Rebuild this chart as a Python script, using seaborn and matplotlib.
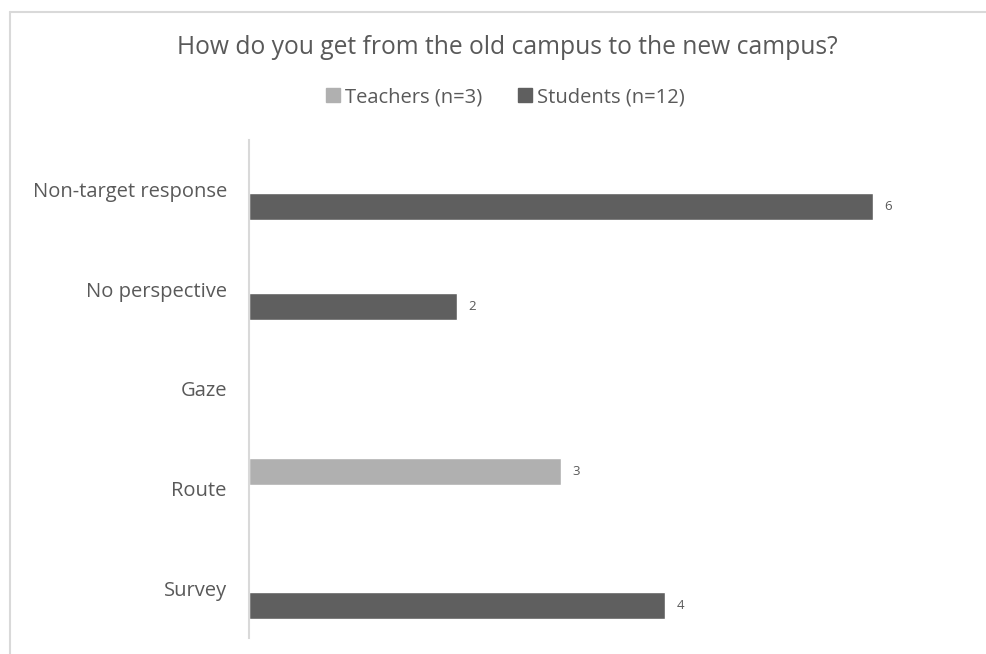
import numpy as np
import pandas as pd
import matplotlib
matplotlib.use("Agg")
import matplotlib.pyplot as plt
import seaborn as sns
from matplotlib.lines import Line2D

categories = ["Non-target response", "No perspective", "Gaze", "Route", "Survey"]
teachers = [0, 0, 0, 3, 0]
students = [6, 2, 0, 0, 4]
groups = ["Teachers (n=3)", "Students (n=12)"]
colors = ["#b0b0b0", "#5f5f5f"]

df = pd.DataFrame({
    "Category": categories * 2,
    "Count": teachers + students,
    "Group": [groups[0]] * len(categories) + [groups[1]] * len(categories),
})

sns.set_style("white")
plt.rcParams["font.family"] = ["Open Sans", "DejaVu Sans"]
text_col = "#595959"

fig = plt.figure(figsize=(9.87, 6.54), dpi=100)
ax = fig.add_axes([249 / 987, 16 / 654, (873 - 249) / 987, (638 - 140) / 654])

sns.barplot(data=df, y="Category", x="Count", hue="Group", order=categories,
            hue_order=groups, palette=colors, orient="h", width=0.68, gap=0.2,
            ax=ax, legend=False, saturation=1)

# value labels, skip empty bars
for cont in ax.containers:
    for bar in cont:
        w = bar.get_width()
        if w > 0:
            ax.text(w + 0.11, bar.get_y() + bar.get_height() / 2, f"{w:g}",
                    va="center", ha="left", fontsize=9.5, color=text_col)

ax.set_xlim(0, 6)
ax.set_ylim(len(categories) - 0.5, -0.5)
ax.set_xlabel("")
ax.set_ylabel("")
ax.set_xticks([])
ax.tick_params(axis="y", length=0, pad=16, labelsize=14.5, labelcolor=text_col)
for s in ["top", "right", "bottom"]:
    ax.spines[s].set_visible(False)
ax.spines["left"].set_color("#d9d9d9")
ax.spines["left"].set_linewidth(1.5)

fig.text(507 / 987, 1 - 47 / 654, "How do you get from the old campus to the new campus?",
         ha="center", va="center", fontsize=17.7, color=text_col)

handles = [Line2D([], [], marker="s", linestyle="", markersize=10, color=c) for c in colors]
fig.legend(handles, groups, loc="center", bbox_to_anchor=(504 / 987, 1 - 97 / 654),
           ncol=2, frameon=False, fontsize=14.5, labelcolor=text_col,
           handletextpad=0.1, columnspacing=1.6, handlelength=1.0)

# outer chart frame
fig.add_artist(Line2D([10 / 987, 1], [1 - 12 / 654] * 2, transform=fig.transFigure,
                      color="#d9d9d9", lw=1.5))
fig.add_artist(Line2D([10 / 987] * 2, [0, 1 - 12 / 654], transform=fig.transFigure,
                      color="#d9d9d9", lw=1.5))

fig.savefig("out.png", dpi=100, facecolor="white")
